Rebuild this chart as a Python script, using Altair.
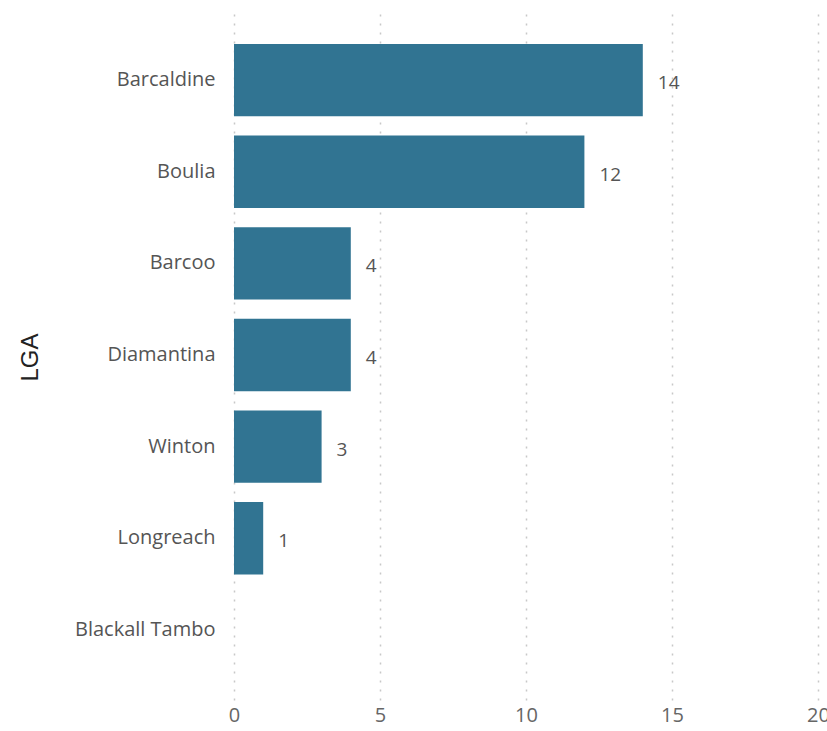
import altair as alt
import pandas as pd

lgas = ["Barcaldine", "Boulia", "Barcoo", "Diamantina", "Winton", "Longreach", "Blackall Tambo"]
counts = [14, 12, 4, 4, 3, 1, 0]
x_ticks = [0, 5, 10, 15, 20]

df = pd.DataFrame({"LGA": lgas, "n": counts})

y_enc = alt.Y(
    "LGA:N",
    sort=lgas,
    scale=alt.Scale(paddingInner=0.21, paddingOuter=0.37),
    axis=alt.Axis(
        title="LGA",
        titleFont="Liberation Sans",
        titleFontSize=24,
        titleFontWeight="normal",
        titleColor="#222222",
        titleAngle=270,
        titleAlign="center",
        titleBaseline="middle",
        titleX=-204,
        titleY=347,
        labelFont="Open Sans",
        labelFontSize=20,
        labelColor="#555555",
        labelPadding=19,
        ticks=False,
        domain=False,
        grid=False,
    ),
)

x_enc = alt.X(
    "n:Q",
    scale=alt.Scale(domain=[0, 20], nice=False),
    axis=alt.Axis(
        title=None,
        values=x_ticks,
        labelFont="Open Sans",
        labelFontSize=20,
        labelColor="#666666",
        labelPadding=5,
        ticks=False,
        domain=False,
        grid=True,
        gridColor="#c8c8c8",
        gridWidth=1.5,
        gridDash=[2, 7],
        labelFlush=False,
    ),
)

bars = alt.Chart(df).mark_bar(color="#317492").encode(x=x_enc, y=y_enc)

labels = (
    alt.Chart(df)
    .transform_filter("datum.n > 0")
    .mark_text(align="left", baseline="middle", dx=15, dy=3, font="Open Sans", fontSize=19, color="#555555")
    .encode(x=alt.X("n:Q"), y=alt.Y("LGA:N", sort=lgas), text="n:Q")
)

chart = (
    alt.layer(bars, labels)
    .properties(
        width=584,
        height=690,
        autosize=alt.AutoSizeParams(type="none"),
        padding={"left": 234, "top": 10, "right": 9, "bottom": 28},
        background="white",
    )
    .configure_view(stroke=None)
)

chart.save("out.html", embed_options={"renderer": "svg", "actions": False})
